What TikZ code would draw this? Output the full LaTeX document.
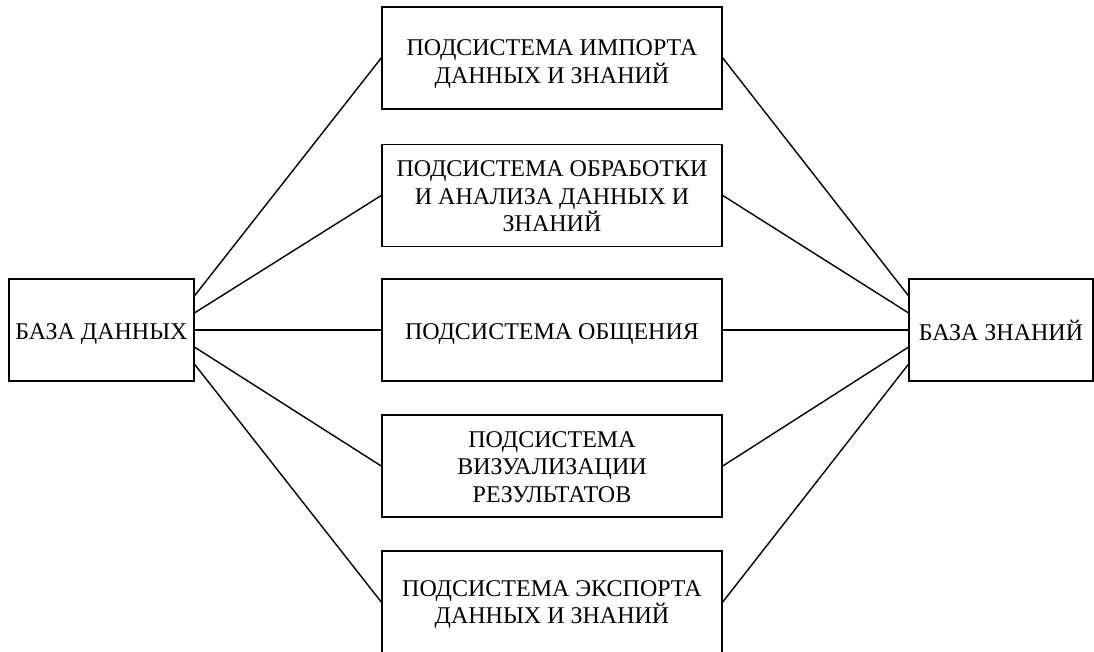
\documentclass[tikz,border=0pt]{standalone}
\usepackage{fontspec}
\setmainfont{Liberation Serif}
\usetikzlibrary{calc}
\begin{document}
\begin{tikzpicture}[x=1pt,y=-1pt,
  txt/.style={font=\fontsize{24}{27.6}\selectfont,inner sep=0pt,align=center},
  boxed/.style={draw,line width=1.5pt,inner sep=0pt,minimum height=102pt},
  sidebox/.style={boxed,minimum width=185pt},
  midbox/.style={boxed,minimum width=340pt},
  link/.style={line width=1.4pt}]
\useasboundingbox (0,0) rectangle (1094,652);
\node[sidebox] (db) at (101.5,330) {};
\node[sidebox,minimum width=184pt] (kb) at (1001,330) {};
\node[midbox] (m1) at (552,58) {};
\node[midbox] (m2) at (552,195.5) {};
\node[midbox] (m3) at (552,330) {};
\node[midbox] (m4) at (552,466) {};
\node[midbox] (m5) at (552,602) {};
\node[txt] (tdb) at (101.5,334) {БАЗА ДАННЫХ};
\node[txt] (tkb) at (1001,330) {БАЗА ЗНАНИЙ};
\node[txt] (t1) at (552,64) {ПОДСИСТЕМА ИМПОРТА\\ДАННЫХ И ЗНАНИЙ};
\node[txt] (t2) at (552,196.5) {ПОДСИСТЕМА ОБРАБОТКИ\\И АНАЛИЗА ДАННЫХ И\\ЗНАНИЙ};
\node[txt] (t3) at (552,334) {ПОДСИСТЕМА ОБЩЕНИЯ};
\node[txt] (t4) at (552,467) {ПОДСИСТЕМА\\ВИЗУАЛИЗАЦИИ\\РЕЗУЛЬТАТОВ};
\node[txt] (t5) at (552,604.5) {ПОДСИСТЕМА ЭКСПОРТА\\ДАННЫХ И ЗНАНИЙ};
\coordinate (d1) at ($(db.north east)!1/6!(db.south east)$);
\coordinate (d2) at ($(db.north east)!1/3!(db.south east)$);
\coordinate (d4) at ($(db.north east)!2/3!(db.south east)$);
\coordinate (d5) at ($(db.north east)!5/6!(db.south east)$);
\coordinate (k1) at ($(kb.north west)!1/6!(kb.south west)$);
\coordinate (k2) at ($(kb.north west)!1/3!(kb.south west)$);
\coordinate (k4) at ($(kb.north west)!2/3!(kb.south west)$);
\coordinate (k5) at ($(kb.north west)!5/6!(kb.south west)$);
\draw[link] (d1) -- (m1.west);
\draw[link] (d2) -- (m2.west);
\draw[link] (db.east) -- (m3.west);
\draw[link] (d4) -- (m4.west);
\draw[link] (d5) -- (m5.west);
\draw[link] (m1.east) -- (k1);
\draw[link] (m2.east) -- (k2);
\draw[link] (m3.east) -- (kb.west);
\draw[link] (m4.east) -- (k4);
\draw[link] (m5.east) -- (k5);
\end{tikzpicture}
\end{document}
